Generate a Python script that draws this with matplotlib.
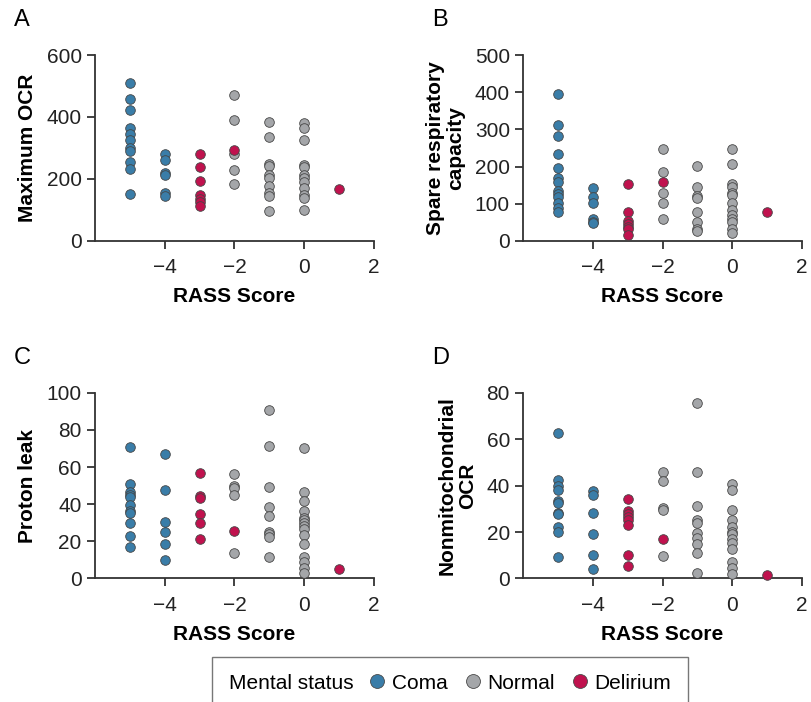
import matplotlib
matplotlib.use('Agg')
import matplotlib.pyplot as plt
from matplotlib.lines import Line2D
from matplotlib.offsetbox import HPacker

plt.rcParams['font.family'] = ['Liberation Sans', 'DejaVu Sans']

# values, keyed by RASS score
max_ocr = {
    'Coma': {-5: [510, 457, 423, 364, 344, 327, 300, 290, 256, 232, 152],
             -4: [282, 261, 219, 211, 154, 144]},
    'Normal': {-2: [470, 389, 280, 229, 183],
               -1: [385, 334, 248, 243, 211, 203, 178, 154, 144, 97],
               0: [380, 364, 325, 245, 240, 211, 202, 189, 171, 147, 138, 101]},
    'Delirium': {-3: [282, 240, 194, 147, 136, 125, 114], -2: [293], 1: [166]},
}
spare_cap = {
    'Coma': {-5: [394, 313, 282, 233, 197, 168, 159, 135, 126, 117, 102, 89, 77],
             -4: [141, 118, 102, 58, 51, 47]},
    'Normal': {-2: [248, 186, 129, 103, 59],
               -1: [201, 144, 120, 116, 77, 51, 32, 27],
               0: [246, 206, 154, 145, 129, 123, 103, 83, 69, 60, 51, 33, 22]},
    'Delirium': {-3: [153, 78, 54, 44, 36, 31, 15], -2: [159], 1: [77]},
}
proton_leak = {
    'Coma': {-5: [70.9, 51.0, 46.7, 44.9, 44.0, 39.5, 36.3, 35.4, 29.6, 22.8, 16.7],
             -4: [67.1, 47.9, 30.5, 24.8, 18.8, 10.2]},
    'Normal': {-2: [56.2, 49.7, 48.5, 45.2, 13.6],
               -1: [90.6, 71.4, 49.0, 38.6, 33.4, 25.1, 23.7, 22.4, 11.5],
               0: [70.4, 46.7, 41.5, 36.3, 32.7, 31.4, 29.6, 28.4, 26.4, 23.2,
                   18.7, 11.3, 8.8, 5.7, 3.2]},
    'Delirium': {-3: [56.9, 44.3, 43.1, 34.5, 29.6, 21.4], -2: [25.5], 1: [5.2]},
}
nonmito_ocr = {
    'Coma': {-5: [62.5, 42.4, 39.8, 38.1, 33.5, 32.3, 28.4, 27.7, 22.3, 20.0, 9.3],
             -4: [37.8, 35.8, 28.4, 19.0, 9.9, 4.0]},
    'Normal': {-2: [46.0, 41.8, 30.4, 29.4, 9.6],
               -1: [75.7, 45.7, 31.4, 25.1, 23.7, 19.4, 17.5, 14.8, 11.1, 2.3],
               0: [40.6, 38.1, 29.3, 25.1, 22.0, 19.8, 19.0, 17.2, 15.1, 12.8,
                   6.9, 4.6, 2.0]},
    'Delirium': {-3: [34.2, 29.0, 27.7, 26.6, 25.1, 23.0, 9.9, 5.3], -2: [16.9], 1: [1.4]},
}

colors = {'Coma': '#3a7da8', 'Normal': '#a4a6a9', 'Delirium': '#c0124e'}
draw_order = ['Normal', 'Coma', 'Delirium']
xticks = [-4, -2, 0, 2]

panels = [
    ('A', max_ocr, 'Maximum OCR', (0, 600), [0, 200, 400, 600]),
    ('B', spare_cap, 'Spare respiratory\ncapacity', (0, 500), [0, 100, 200, 300, 400, 500]),
    ('C', proton_leak, 'Proton leak', (0, 100), [0, 20, 40, 60, 80, 100]),
    ('D', nonmito_ocr, 'Nonmitochondrial\nOCR', (0, 80), [0, 20, 40, 60, 80]),
]
positions = [
    [0.117, 0.657, 0.344, 0.2645],
    [0.645, 0.657, 0.344, 0.2645],
    [0.117, 0.176, 0.344, 0.2645],
    [0.645, 0.176, 0.344, 0.2645],
]

fig = plt.figure(figsize=(8.11, 7.02), dpi=100)
spine_col = '#333333'
fs = 15

for (letter, data, ylab, ylim, yticks), pos in zip(panels, positions):
    ax = fig.add_axes(pos)
    for status in draw_order:
        for score, vals in data[status].items():
            ax.scatter([score] * len(vals), vals, s=48, color=colors[status],
                       edgecolor='#454545', linewidth=0.6, zorder=3, clip_on=False)
    ax.set_xlim(-6, 2)
    ax.set_ylim(*ylim)
    ax.set_xticks(xticks)
    ax.set_xticklabels(['\u22124', '\u22122', '0', '2'])
    ax.set_yticks(yticks)
    for side in ['top', 'right']:
        ax.spines[side].set_visible(False)
    for side in ['left', 'bottom']:
        ax.spines[side].set_color(spine_col)
        ax.spines[side].set_linewidth(1.3)
    ax.tick_params(direction='out', length=5.5, width=1.3, color=spine_col,
                   labelsize=fs, labelcolor='#222222', pad=4)
    ax.tick_params(axis='x', pad=7)
    ax.set_xlabel('RASS Score', fontsize=fs, fontweight='bold', labelpad=7)
    ax.set_ylabel(ylab, fontsize=fs, fontweight='bold', labelpad=7,
                  linespacing=1.05)
    fx = 0.017 if letter in 'AC' else 0.533
    fy = pos[1] + pos[3] + 0.05
    fig.text(fx, fy, letter, fontsize=17, ha='left', va='center')

handles = [Line2D([], [], marker='o', linestyle='', markersize=10,
                  markerfacecolor=colors[k], markeredgecolor='#4a4a4a',
                  markeredgewidth=0.6, label=k)
           for k in ['Coma', 'Normal', 'Delirium']]
leg = fig.legend(handles=handles, loc='upper center', bbox_to_anchor=(0.555, 0.079),
                 ncol=3, frameon=True, fancybox=False, fontsize=fs,
                 title='Mental status', handletextpad=0.1, columnspacing=0.6,
                 borderpad=0.8, handlelength=1.2)
leg.get_frame().set_edgecolor('#555555')
leg.get_frame().set_linewidth(1.0)
leg.get_title().set_fontsize(fs)
# put the title inline to the left of the entries
box = leg._legend_box
box._children = [HPacker(children=box.get_children(), align='center', pad=0, sep=8)]

fig.savefig('out.png', dpi=100)
